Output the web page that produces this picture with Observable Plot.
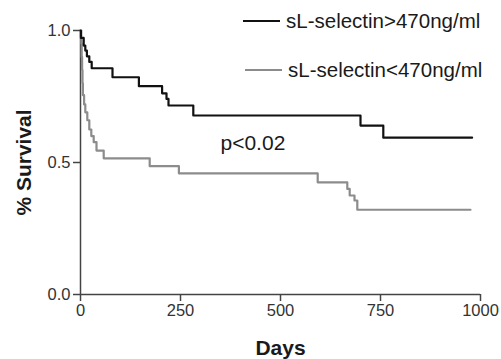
<!DOCTYPE html>
<html>
<head>
<meta charset="utf-8">
<script src="https://cdn.jsdelivr.net/npm/d3@7"></script>
<script src="https://cdn.jsdelivr.net/npm/@observablehq/plot@0.6"></script>
<style>
  html, body { margin: 0; padding: 0; background: #fff; }
  #wrap { position: relative; width: 501px; height: 359px; font-family: "Liberation Sans", Arial, Helvetica, sans-serif; }
  .leg { position: absolute; display: flex; align-items: center; font-size: 20.5px; color: #1a1a1a; white-space: nowrap; }
  .leg .sw { width: 37px; height: 0; margin-right: 6px; }
</style>
</head>
<body>
<div id="wrap"></div>
<script>
// Series names
const seriesNames = ["sL-selectin>470ng/ml", "sL-selectin<470ng/ml"];
// High group (black) Kaplan-Meier steps
const highDays = [0, 1, 8, 12, 16, 22, 28, 80, 146, 204, 215, 220, 282, 700, 757, 979];
const highSurv = [1.0, 0.972, 0.943, 0.924, 0.902, 0.881, 0.857, 0.823, 0.789, 0.762, 0.741, 0.716, 0.678, 0.640, 0.594, 0.594];
// Low group (gray) Kaplan-Meier steps
const lowDays = [0, 2, 3, 4, 5, 6, 9, 12, 17, 22, 27, 33, 40, 58, 173, 246, 593, 667, 673, 685, 692, 975];
const lowSurv = [1.0, 0.95, 0.90, 0.85, 0.80, 0.755, 0.72, 0.69, 0.66, 0.625, 0.60, 0.577, 0.545, 0.516, 0.486, 0.459, 0.425, 0.40, 0.375, 0.356, 0.321, 0.321];
// Axis ticks
const xTicks = [0, 250, 500, 750, 1000];
const yTicks = [0, 0.5, 1.0];
// Annotation
const annText = ["p<0.02"];
const annDay = [350];
const annSurv = [0.572];

const high = highDays.map((d, i) => ({day: d, surv: highSurv[i]}));
const low = lowDays.map((d, i) => ({day: d, surv: lowSurv[i]}));
const ann = annText.map((t, i) => ({text: t, day: annDay[i], surv: annSurv[i]}));

const FONT = '"Liberation Sans", Arial, Helvetica, sans-serif';

const chart = Plot.plot({
  width: 501,
  height: 359,
  marginLeft: 80,
  marginRight: 21,
  marginTop: 30,
  marginBottom: 65,
  style: {fontFamily: FONT, background: "#fff", overflow: "visible"},
  x: {domain: [0, 1000]},
  y: {domain: [0, 1]},
  marks: [
    Plot.axisX({ticks: xTicks, tickSize: 7, tickPadding: 3, fontSize: 16.5, stroke: "#444", strokeWidth: 1.5, fill: "#333", tickFormat: d3.format("d"), label: "Days", labelAnchor: "center", labelArrow: "none", labelOffset: 60}),
    Plot.axisY({ticks: yTicks, tickSize: 7, tickPadding: 3, fontSize: 16.5, stroke: "#444", strokeWidth: 1.5, fill: "#333", tickFormat: d3.format(".1f"), label: "% Survival", labelAnchor: "center", labelArrow: "none", labelOffset: 64}),
    Plot.ruleY([0], {stroke: "#444", strokeWidth: 1.5}),
    Plot.ruleX([0], {stroke: "#444", strokeWidth: 1.5}),
    Plot.line(low, {x: "day", y: "surv", curve: "step-after", stroke: "#8c8c8c", strokeWidth: 2.2}),
    Plot.line(high, {x: "day", y: "surv", curve: "step-after", stroke: "#111", strokeWidth: 2.2}),
    Plot.text(ann, {x: "day", y: "surv", text: "text", textAnchor: "start", fontSize: 21, fill: "#1a1a1a"})
  ]
});

const wrap = document.getElementById("wrap");
wrap.appendChild(chart);

// Style the axis titles bold and larger
chart.querySelectorAll('[aria-label="x-axis label"] text, [aria-label="y-axis label"] text').forEach(t => {
  t.setAttribute("font-weight", "bold");
  t.setAttribute("font-size", "21");
  t.setAttribute("fill", "#1a1a1a");
});

// Legend (HTML, above the plot area)
const legColors = ["#111", "#8c8c8c"];
const legPos = [{left: 243, top: 9}, {left: 245, top: 58}];
seriesNames.forEach((name, i) => {
  const d = document.createElement("div");
  d.className = "leg";
  d.style.left = legPos[i].left + "px";
  d.style.top = legPos[i].top + "px";
  const sw = document.createElement("span");
  sw.className = "sw";
  sw.style.borderTop = "2.2px solid " + legColors[i];
  const tx = document.createElement("span");
  tx.textContent = name;
  d.appendChild(sw);
  d.appendChild(tx);
  wrap.appendChild(d);
});
</script>
</body>
</html>
